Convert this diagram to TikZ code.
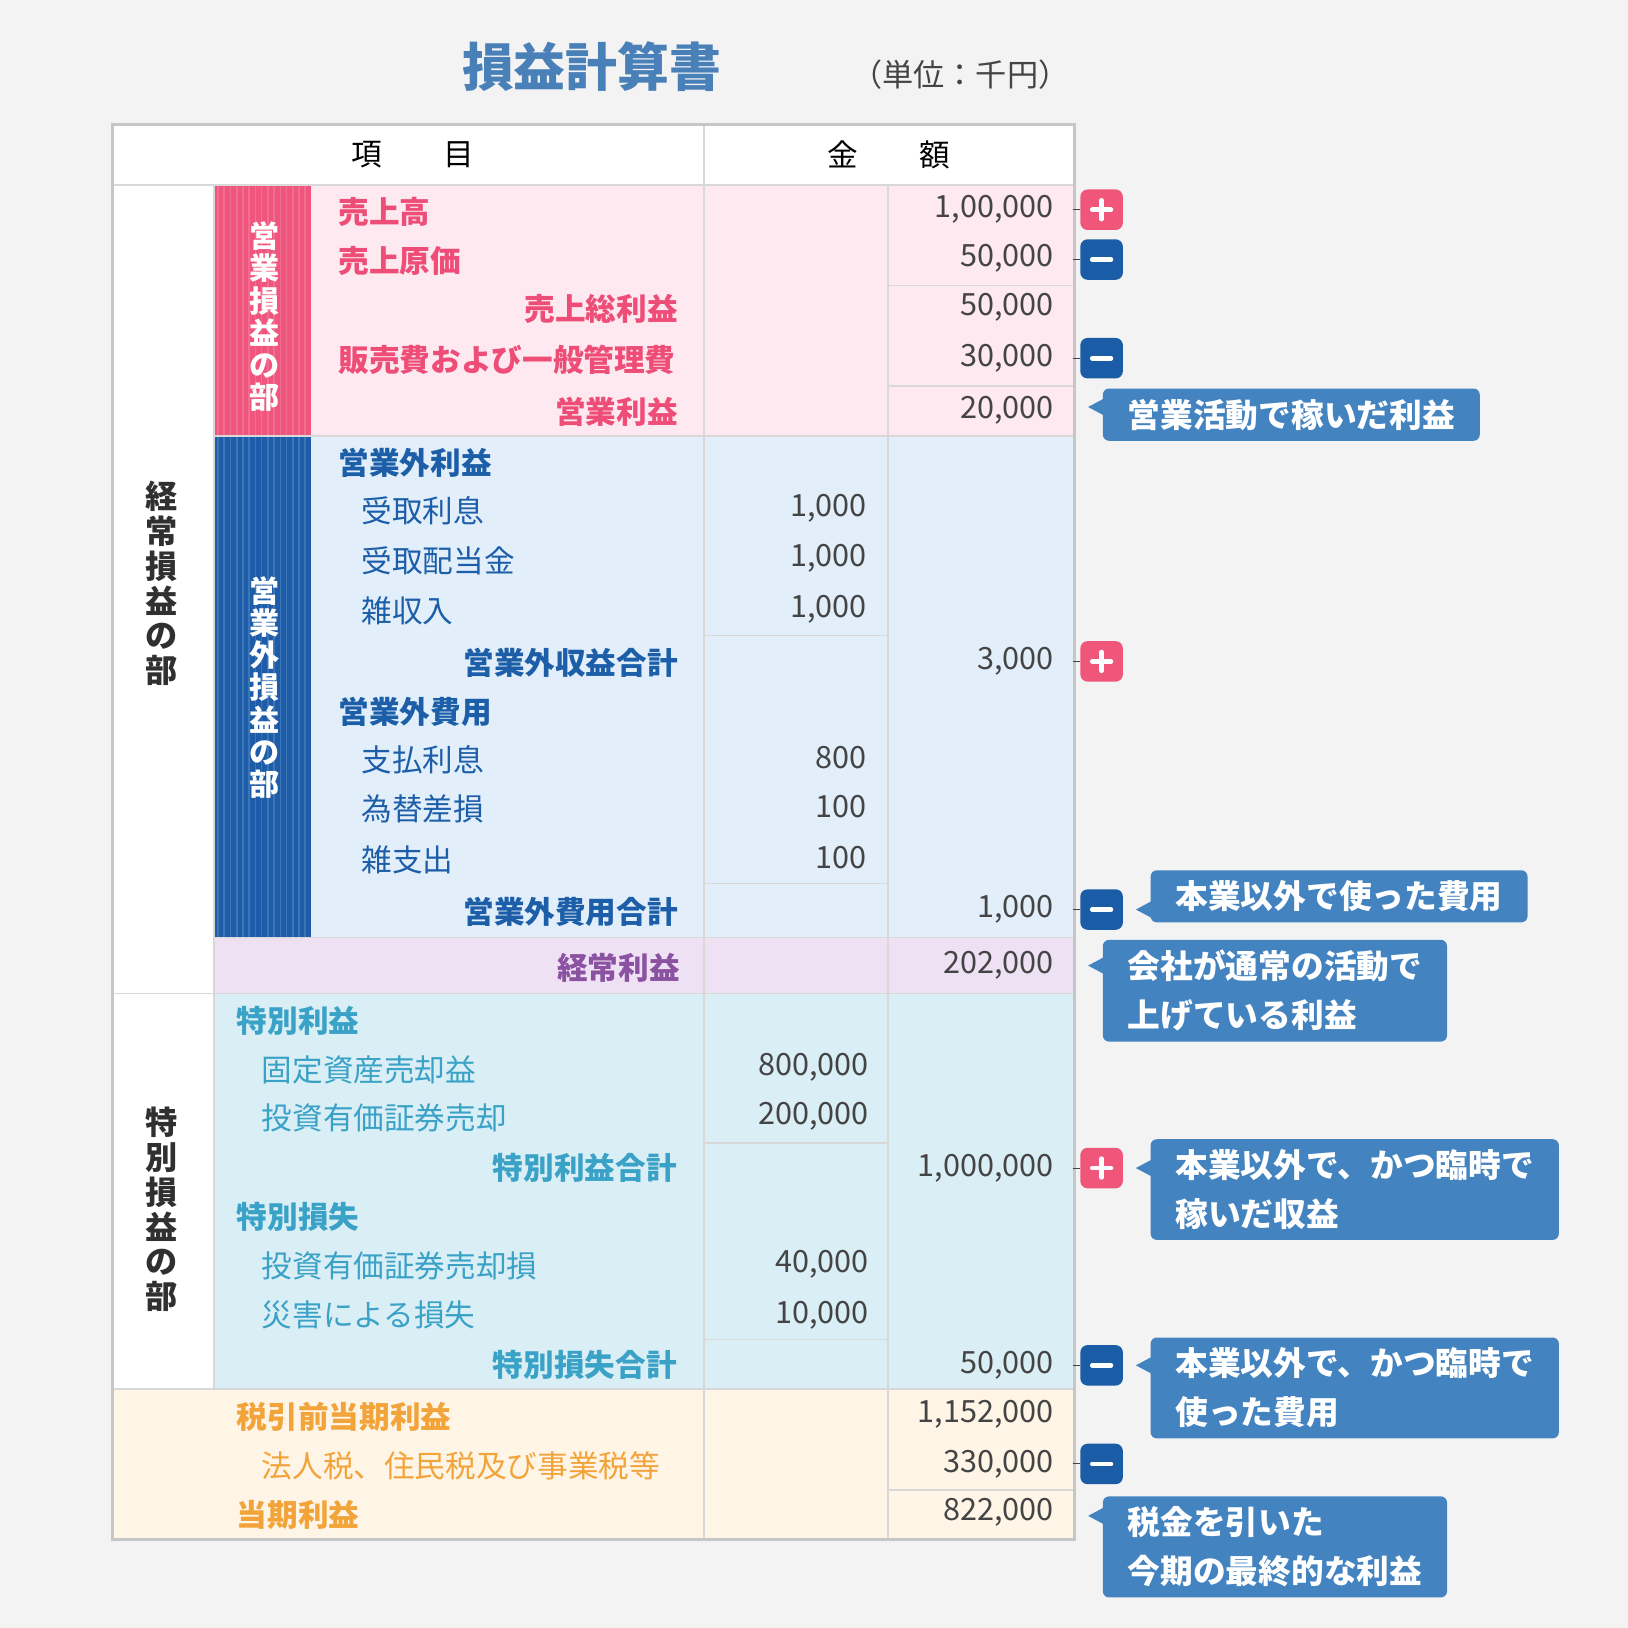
\documentclass[tikz,border=0pt]{standalone}
\usepackage{fontspec}
\setmainfont{Noto Sans CJK JP}
\begin{document}
\begin{tikzpicture}[x=1pt,y=-1pt,
  txt/.style={font=\fontsize{29.5}{30}\selectfont\bfseries,inner sep=0pt},
  reg/.style={font=\fontsize{29.5}{30}\selectfont,inner sep=0pt},
  num/.style={font=\fontsize{29.5}{30}\selectfont,text=numc,anchor=east,inner sep=0pt},
  sep/.style={draw=sepc,line width=1.5pt},
  badge/.style={rounded corners=7pt,minimum width=41pt,minimum height=39pt,inner sep=0pt},
  plusb/.style={badge,fill=plusc},
  minusb/.style={badge,fill=minusc},
  sign/.style={white,line width=4.5pt,line cap=round},
  callout/.style={fill=callc,rounded corners=6pt,text=white,anchor=north west,align=left,inner xsep=24pt,inner ysep=10pt,font=\fontsize{31.5}{47}\selectfont\bfseries},
  vert/.style={align=center,inner sep=0pt,font=\fontsize{31}{33.5}\selectfont\bfseries}
]
\definecolor{bg}{HTML}{F3F3F4}
\definecolor{titlec}{HTML}{4A80B8}
\definecolor{numc}{HTML}{444444}
\definecolor{sepc}{HTML}{D8D8D8}
\definecolor{pinkbg}{HTML}{FDE9EF}
\definecolor{pinkt}{HTML}{EE4D78}
\definecolor{pinkbar}{HTML}{F0557E}
\definecolor{bluebg}{HTML}{E2EEFA}
\definecolor{bluet}{HTML}{1C5FA8}
\definecolor{bluebar}{HTML}{1C5CA8}
\definecolor{lavbg}{HTML}{EFE1F4}
\definecolor{purt}{HTML}{8A52A0}
\definecolor{cyanbg}{HTML}{DAEEF6}
\definecolor{cyant}{HTML}{3AA2C6}
\definecolor{orbg}{HTML}{FEF5E7}
\definecolor{ort}{HTML}{F2A43A}
\definecolor{plusc}{HTML}{F0557A}
\definecolor{minusc}{HTML}{1A5CA6}
\definecolor{callc}{HTML}{4383C0}
\fill[bg] (0,0) rectangle (1568,1568);
\useasboundingbox (0,0) rectangle (1568,1568);
% title
\node[font=\fontsize{50}{52}\selectfont\bfseries,text=titlec] (title) at (570,64) {損益計算書};
\node[font=\fontsize{30}{30}\selectfont,text=numc] (unit) at (925,72) {（単位：千円）};
% table backgrounds
\fill[white] (108,120) rectangle (1035,1483);
\fill[pinkbg] (300,178) rectangle (1035,420);
\fill[bluebg] (300,420) rectangle (1035,903);
\fill[lavbg] (206,903) rectangle (1035,957);
\fill[cyanbg] (206,957) rectangle (1035,1338);
\fill[orbg] (108,1338) rectangle (1035,1483);
% bars
\fill[pinkbar] (206,178) rectangle (300,420);
\fill[bluebar] (206,420) rectangle (300,903);
\foreach \xx in {210,216,...,298} {
  \draw[white,opacity=0.15,line width=1.5pt] (\xx,178) -- (\xx,903);
}
% lines
\draw[sep] (108,178) -- (1035,178);
\draw[sep] (678,120) -- (678,1483);
\draw[sep] (855,178) -- (855,1483);
\draw[sep] (206,178) -- (206,1338);
\draw[sep] (108,957) -- (1035,957);
\draw[sep] (206,903) -- (1035,903);
\draw[sep] (108,1338) -- (1035,1338);
\draw[sep] (206,420) -- (1035,420);
\draw[sep] (855,275) -- (1035,275);
\draw[sep] (855,372) -- (1035,372);
\draw[sep] (678,612) -- (855,612);
\draw[sep] (678,851) -- (855,851);
\draw[sep] (678,1101) -- (855,1101);
\draw[sep] (678,1290) -- (855,1290);
\draw[sep] (855,1435) -- (1035,1435);
\draw[draw=sepc!80!gray,line width=3pt] (108,120) rectangle (1035,1483);
% header
\node[reg,text=black] (h1) at (398,149) {項　　目};
\node[reg,text=black] (h2) at (856,149) {金　　額};
% vertical labels
\node[vert,text=numc!70!black] (v1) at (156,562) {経\\常\\損\\益\\の\\部};
\node[vert,text=numc!70!black] (v2) at (156,1165) {特\\別\\損\\益\\の\\部};
\node[vert,text=white,font=\fontsize{29}{31}\selectfont\bfseries] (v3) at (255,305) {営\\業\\損\\益\\の\\部};
\node[vert,text=white,font=\fontsize{29}{31}\selectfont\bfseries] (v4) at (255,662) {営\\業\\外\\損\\益\\の\\部};
% pink items
\node[txt,text=pinkt,anchor=west] (a1) at (326,204) {売上高};
\node[txt,text=pinkt,anchor=west] (a2) at (326,251) {売上原価};
\node[txt,text=pinkt,anchor=east] (a3) at (653,298) {売上総利益};
\node[txt,text=pinkt,anchor=west] (a4) at (326,347) {販売費および一般管理費};
\node[txt,text=pinkt,anchor=east] (a5) at (653,397) {営業利益};
\node[num] (na1) at (1015,202) {1,00,000};
\node[num] (na2) at (1015,249) {50,000};
\node[num] (na3) at (1015,296) {50,000};
\node[num] (na4) at (1015,345) {30,000};
\node[num] (na5) at (1015,395) {20,000};
% blue items
\node[txt,text=bluet,anchor=west] (b1) at (326,446) {営業外利益};
\node[reg,text=bluet,anchor=west] (b2) at (348,492) {受取利息};
\node[reg,text=bluet,anchor=west] (b3) at (348,540) {受取配当金};
\node[reg,text=bluet,anchor=west] (b4) at (348,588) {雑収入};
\node[txt,text=bluet,anchor=east] (b5) at (653,638) {営業外収益合計};
\node[txt,text=bluet,anchor=west] (b6) at (326,686) {営業外費用};
\node[reg,text=bluet,anchor=west] (b7) at (348,732) {支払利息};
\node[reg,text=bluet,anchor=west] (b8) at (348,779) {為替差損};
\node[reg,text=bluet,anchor=west] (b9) at (348,828) {雑支出};
\node[txt,text=bluet,anchor=east] (b10) at (653,878) {営業外費用合計};
\node[num] (nb2) at (835,490) {1,000};
\node[num] (nb3) at (835,538) {1,000};
\node[num] (nb4) at (835,587) {1,000};
\node[num] (nb7) at (835,730) {800};
\node[num] (nb8) at (835,777) {100};
\node[num] (nb9) at (835,826) {100};
\node[num] (nb5) at (1015,637) {3,000};
\node[num] (nb10) at (1015,876) {1,000};
% ordinary
\node[txt,text=purt,anchor=east] (c1) at (655,932) {経常利益};
\node[num] (nc1) at (1015,930) {202,000};
% special
\node[txt,text=cyant,anchor=west] (d1) at (228,983) {特別利益};
\node[reg,text=cyant,anchor=west] (d2) at (252,1030) {固定資産売却益};
\node[reg,text=cyant,anchor=west] (d3) at (252,1077) {投資有価証券売却};
\node[txt,text=cyant,anchor=east] (d4) at (652,1125) {特別利益合計};
\node[txt,text=cyant,anchor=west] (d5) at (228,1172) {特別損失};
\node[reg,text=cyant,anchor=west] (d6) at (252,1219) {投資有価証券売却損};
\node[reg,text=cyant,anchor=west] (d7) at (252,1266) {災害による損失};
\node[txt,text=cyant,anchor=east] (d8) at (652,1315) {特別損失合計};
\node[num] (nd2) at (837,1028) {800,000};
\node[num] (nd3) at (837,1075) {200,000};
\node[num] (nd6) at (837,1218) {40,000};
\node[num] (nd7) at (837,1267) {10,000};
\node[num] (nd4) at (1015,1125) {1,000,000};
\node[num] (nd8) at (1015,1315) {50,000};
% tax
\node[txt,text=ort,anchor=west] (e1) at (228,1365) {税引前当期利益};
\node[reg,text=ort,anchor=west] (e2) at (252,1412) {法人税、住民税及び事業税等};
\node[txt,text=ort,anchor=west] (e3) at (228,1459) {当期利益};
\node[num] (ne1) at (1015,1362) {1,152,000};
\node[num] (ne2) at (1015,1410) {330,000};
\node[num] (ne3) at (1015,1457) {822,000};
% badges
\foreach \nm/\yy/\st in {p1/202/plusb,m1/250/minusb,m2/345/minusb,p2/637/plusb,m3/876/minusb,p3/1125/plusb,m4/1315/minusb,m5/1410/minusb} {
  \coordinate (t\nm) at (1033,\yy);
  \node[\st] (\nm) at (1061,\yy) {};
  \draw[numc,line width=1pt] (t\nm) -- (\nm.west);
  \draw[sign] ([xshift=-9pt]\nm.center) -- ([xshift=9pt]\nm.center);
}
\foreach \nm in {p1,p2,p3} {
  \draw[sign] ([yshift=-9pt]\nm.center) -- ([yshift=9pt]\nm.center);
}
% callouts
\foreach \nm/\xx/\yy/\py/\tx in {
  k1/1062/374/392/{営業活動で稼いだ利益},
  k2/1108/838/876/{本業以外で使った費用},
  k3/1062/905/930/{会社が通常の活動で\\上げている利益},
  k4/1108/1097/1125/{本業以外で、かつ臨時で\\稼いだ収益},
  k5/1108/1288/1315/{本業以外で、かつ臨時で\\使った費用},
  k6/1062/1441/1460/{税金を引いた\\今期の最終的な利益}} {
  \node[callout] (\nm) at (\xx,\yy) {\tx};
  \fill[callc] (\xx+1,\py-8) -- (\xx-14,\py) -- (\xx+1,\py+8) -- cycle;
}
\end{tikzpicture}
\end{document}
